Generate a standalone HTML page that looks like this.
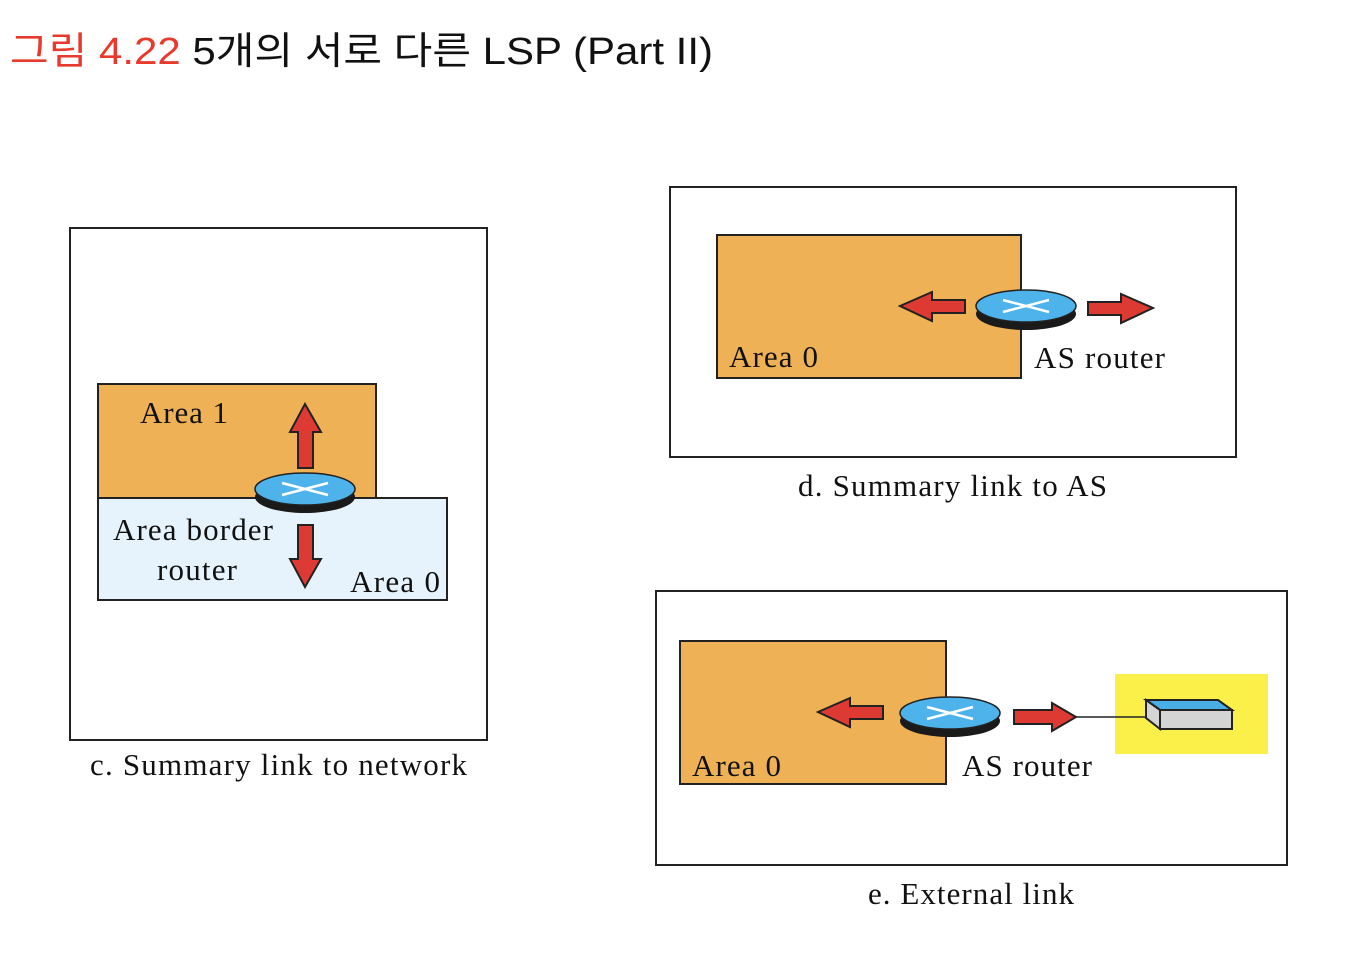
<!DOCTYPE html>
<html><head><meta charset="utf-8"><style>
html,body{margin:0;padding:0;background:#fff;}
svg{display:block;}
.s{font-family:"Liberation Serif",serif;font-size:31px;fill:#111;}
</style></head><body>
<svg width="1356" height="974" viewBox="0 0 1356 974" xmlns="http://www.w3.org/2000/svg">
<text x="10" y="64" font-family="Liberation Sans, 'Noto Sans CJK KR', sans-serif" font-size="38" textLength="703" lengthAdjust="spacingAndGlyphs"><tspan fill="#e8392c">그림 4.22</tspan><tspan fill="#111"> 5개의 서로 다른 LSP (Part II)</tspan></text>

<!-- c -->
<rect x="70" y="228" width="417" height="512" fill="#fff" stroke="#222" stroke-width="2"/>
<rect x="98" y="384" width="278" height="114" fill="#efb155" stroke="#222" stroke-width="2"/>
<rect x="98" y="498" width="349" height="102" fill="#e6f3fc" stroke="#222" stroke-width="2"/>
<text class="s" x="140" y="423" textLength="88">Area 1</text>
<text class="s" x="113" y="540" textLength="160">Area border</text>
<text class="s" x="157" y="580" textLength="80">router</text>
<text class="s" x="350" y="592" textLength="90">Area 0</text>
<path d="M305,404 L321,432 L313,432 L313,468 L298,468 L298,432 L290,432 Z" fill="#dc3a32" stroke="#222" stroke-width="2"/>
<path d="M305,587 L321,559 L313,559 L313,525 L298,525 L298,559 L290,559 Z" fill="#dc3a32" stroke="#222" stroke-width="2"/>
<ellipse cx="305" cy="497" rx="50" ry="16" fill="#1a1a1a"/>
<ellipse cx="305" cy="489" rx="50" ry="16" fill="#4db3ea" stroke="#222" stroke-width="1.5"/>
<path d="M282,483 L328,495 M282,495 L328,483" stroke="#fff" stroke-width="2.5"/>
<text class="s" x="90" y="775" textLength="377">c. Summary link to network</text>

<!-- d -->
<rect x="670" y="187" width="566" height="270" fill="#fff" stroke="#222" stroke-width="2"/>
<rect x="717" y="235" width="304" height="143" fill="#efb155" stroke="#222" stroke-width="2"/>
<text class="s" x="729" y="367" textLength="89">Area 0</text>
<text class="s" x="1034" y="368" textLength="131">AS router</text>
<path d="M900,306 L932,292 L932,300 L965,300 L965,313 L932,313 L932,321 Z" fill="#dc3a32" stroke="#222" stroke-width="2"/>
<path d="M1153,308 L1121,294 L1121,302 L1088,302 L1088,315 L1121,315 L1121,323 Z" fill="#dc3a32" stroke="#222" stroke-width="2"/>
<ellipse cx="1026" cy="314" rx="50" ry="16" fill="#1a1a1a"/>
<ellipse cx="1026" cy="306" rx="50" ry="16" fill="#4db3ea" stroke="#222" stroke-width="1.5"/>
<path d="M1003,300 L1049,312 M1003,312 L1049,300" stroke="#fff" stroke-width="2.5"/>
<text class="s" x="798" y="496" textLength="309">d. Summary link to AS</text>

<!-- e -->
<rect x="656" y="591" width="631" height="274" fill="#fff" stroke="#222" stroke-width="2"/>
<rect x="680" y="641" width="266" height="143" fill="#efb155" stroke="#222" stroke-width="2"/>
<text class="s" x="692" y="776" textLength="89">Area 0</text>
<text class="s" x="962" y="776" textLength="130">AS router</text>
<rect x="1115" y="674" width="153" height="80" fill="#fbf04a"/>
<line x1="1076" y1="717" x2="1147" y2="717" stroke="#222" stroke-width="1.5"/>
<path d="M818,712 L850,698 L850,706 L883,706 L883,719 L850,719 L850,727 Z" fill="#dc3a32" stroke="#222" stroke-width="2"/>
<path d="M1076,717 L1052,703 L1052,710 L1014,710 L1014,724 L1052,724 L1052,731 Z" fill="#dc3a32" stroke="#222" stroke-width="2"/>
<ellipse cx="950" cy="721" rx="50" ry="16" fill="#1a1a1a"/>
<ellipse cx="950" cy="713" rx="50" ry="16" fill="#4db3ea" stroke="#222" stroke-width="1.5"/>
<path d="M927,707 L973,719 M927,719 L973,707" stroke="#fff" stroke-width="2.5"/>
<path d="M1146,700 L1218,700 L1232,710 L1160,710 Z" fill="#4aaee6" stroke="#222" stroke-width="2"/>
<path d="M1146,700 L1160,710 L1160,729 L1146,718 Z" fill="#d4d4d4" stroke="#222" stroke-width="2"/>
<rect x="1160" y="710" width="72" height="19" fill="#d4d4d4" stroke="#222" stroke-width="2"/>
<text class="s" x="868" y="904" textLength="206">e. External link</text>
</svg>
</body></html>
